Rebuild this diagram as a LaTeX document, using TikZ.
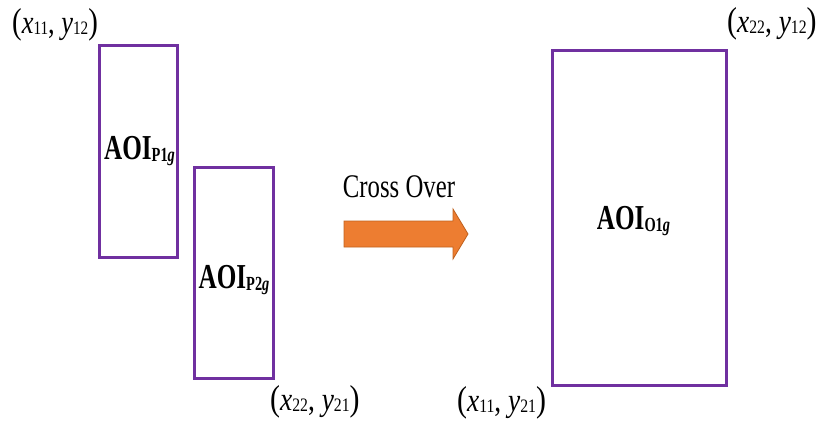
\documentclass[tikz,border=0pt]{standalone}
\usepackage{fontspec}
\setmainfont{Liberation Serif}
\definecolor{aoipurple}{HTML}{7030A0}
\definecolor{arrowfill}{HTML}{ED7D31}
\definecolor{arrowedge}{HTML}{C0621F}
\newcommand{\csub}[1]{\raisebox{-1.5pt}{\fontsize{19}{19}\selectfont #1}}
\newcommand{\cpar}[1]{{\fontsize{36}{36}\selectfont #1}}
\newcommand{\coordlab}[5]{\scalebox{#1}[1]{\cpar{(}\textit{#2}\csub{#3}, \textit{#4}\csub{#5}\cpar{)}}}
\newcommand{\aoisub}[1]{\raisebox{-2pt}{\fontsize{20}{20}\selectfont\bfseries #1}}
\newcommand{\aoilab}[1]{\scalebox{0.72}[1]{AOI\aoisub{#1\textit{g}}}}
\begin{document}
\begin{tikzpicture}[x=1pt,y=-1pt,
  aoibox/.style={draw=aoipurple, line width=3pt, inner sep=0pt},
  aoitext/.style={inner sep=0pt, anchor=base, font=\fontsize{35}{37}\selectfont\bfseries},
  coordtext/.style={inner sep=0pt, anchor=base west, font=\fontsize{33}{35}\selectfont},
  crosstext/.style={inner sep=0pt, anchor=base, font=\fontsize{33}{35}\selectfont}]
\useasboundingbox (0,0) rectangle (823,429);
\node[aoibox, minimum width=78pt, minimum height=212pt] (p1) at (138.5,151.5) {};
\node[aoibox, minimum width=79pt, minimum height=211pt] (p2) at (234,273) {};
\node[aoibox, minimum width=174pt, minimum height=335pt] (o1) at (639,217.5) {};
\node[aoitext] (p1t) at (139.5,159) {\aoilab{P1}};
\node[aoitext] (p2t) at (234,288) {\aoilab{P2}};
\node[aoitext] (o1t) at (633.5,229) {\aoilab{O1}};
\node[coordtext] (c1) at (12,33) {\coordlab{0.8}{x}{11}{y}{12}};
\node[coordtext] (c2) at (270,410) {\coordlab{0.83}{x}{22}{y}{21}};
\node[coordtext] (c3) at (457,411) {\coordlab{0.83}{x}{11}{y}{21}};
\node[coordtext] (c4) at (727,32) {\coordlab{0.83}{x}{22}{y}{12}};
\node[crosstext] (cross) at (399,197) {\scalebox{0.75}[1]{Cross Over}};
\draw[fill=arrowfill, draw=arrowedge, line width=0.8pt, line join=miter]
  (344,221) -- (453,221) -- (453,209) -- (468,234) -- (453,259) -- (453,247) -- (344,247) -- cycle;
\end{tikzpicture}
\end{document}
